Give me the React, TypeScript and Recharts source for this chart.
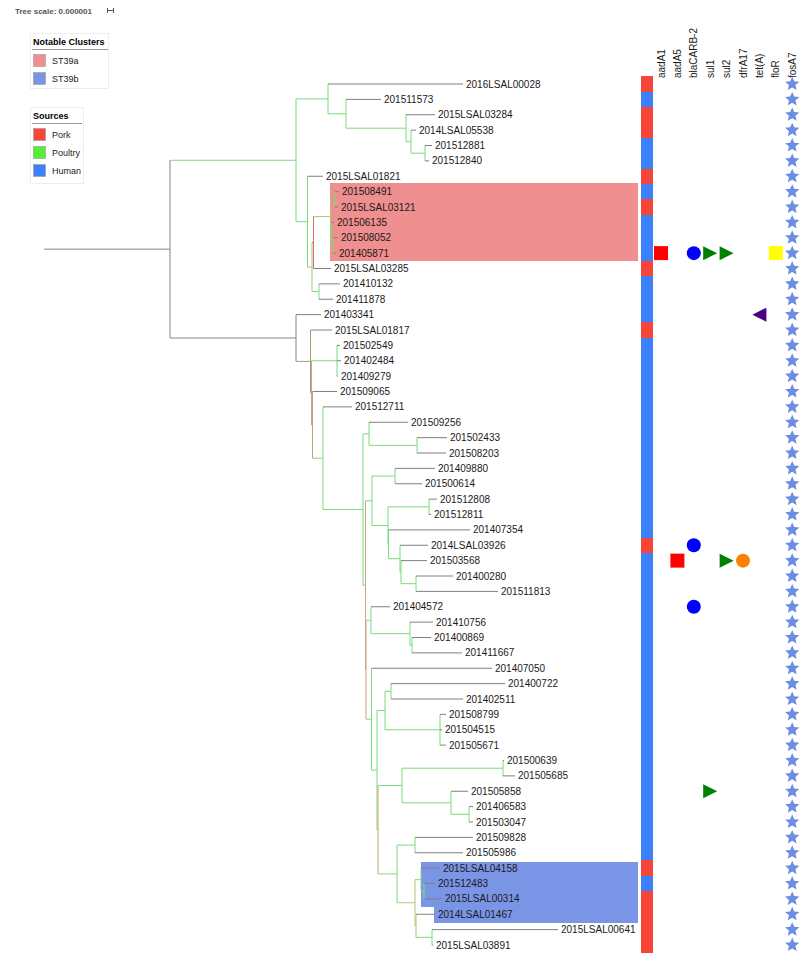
import React from 'react';
import { ComposedChart, XAxis, YAxis, ReferenceLine, ReferenceArea, Scatter } from 'recharts';

// ---------- DATA ----------
const leafNames = [
  '2016LSAL00028', '201511573', '2015LSAL03284', '2014LSAL05538', '201512881', '201512840',
  '2015LSAL01821', '201508491', '2015LSAL03121', '201506135', '201508052', '201405871',
  '2015LSAL03285', '201410132', '201411878', '201403341', '2015LSAL01817', '201502549',
  '201402484', '201409279', '201509065', '201512711', '201509256', '201502433', '201508203',
  '201409880', '201500614', '201512808', '201512811', '201407354', '2014LSAL03926',
  '201503568', '201400280', '201511813', '201404572', '201410756', '201400869', '201411667',
  '201407050', '201400722', '201402511', '201508799', '201504515', '201505671', '201500639',
  '201505685', '201505858', '201406583', '201503047', '201509828', '201505986',
  '2015LSAL04158', '201512483', '2015LSAL00314', '2014LSAL01467', '2015LSAL00641',
  '2015LSAL03891',
];

// cumulative divergence at each leaf tip
const leafTips = [
  463, 381, 435, 416, 432, 429, 323, 339, 338, 334, 338, 336, 331, 340, 333, 321, 332, 340,
  341, 338, 337, 352, 408, 447, 446, 435, 422, 437, 431, 470, 428, 427, 453, 498, 390, 433,
  431, 462, 492, 505, 463, 446, 442, 446, 504, 515, 468, 473, 473, 473, 463, 440, 435, 442,
  435, 558, 433,
];

// P = Pork, H = Human
const leafSources = [
  'P', 'H', 'P', 'P', 'H', 'H', 'P', 'H', 'P', 'H', 'H', 'H', 'P', 'H', 'H', 'H', 'P', 'H',
  'H', 'H', 'H', 'H', 'H', 'H', 'H', 'H', 'H', 'H', 'H', 'H', 'P', 'H', 'H', 'H', 'H', 'H',
  'H', 'H', 'H', 'H', 'H', 'H', 'H', 'H', 'H', 'H', 'H', 'H', 'H', 'H', 'H', 'P', 'H', 'P',
  'P', 'P', 'P',
];

const rootStemStart = 44;

// internal nodes: [id, cumulative divergence, children (leaf index or node id)]
const treeNodes: [string, number, (string | number)[]][] = [
  ['R', 170, ['A', 'B']],
  ['A', 296, ['A1', 'A2']],
  ['A1', 328, [0, 'A1b']],
  ['A1b', 346, [1, 'A1c']],
  ['A1c', 406, [2, 'A1d']],
  ['A1d', 411, [3, 'A1e']],
  ['A1e', 425, [4, 5]],
  ['A2', 307.5, [6, 'A3']],
  ['A3', 312, ['X', 'A5']],
  ['X', 313.5, ['A4', 12]],
  ['A4', 330.5, ['A4a', 'A4b']],
  ['A4a', 335, [7, 8]],
  ['A4b', 331.5, [9, 'A4c']],
  ['A4c', 333, [10, 11]],
  ['A5', 319, [13, 14]],
  ['B', 296, [15, 'B1']],
  ['B1', 310.5, [16, 'Z']],
  ['Z', 311.5, ['B2', 'W2']],
  ['B2', 337, [17, 18, 19]],
  ['W2', 312.5, [20, 'B3']],
  ['B3', 323, [21, 'B4']],
  ['B4', 363, ['B5', 'B6']],
  ['B5', 369, [22, 'B5a']],
  ['B5a', 417, [23, 24]],
  ['B6', 365.5, ['B7', 'B8']],
  ['B7', 372, ['B7a', 'B7b']],
  ['B7a', 395, [25, 26]],
  ['B7b', 388, ['B7c', 'X1']],
  ['B7c', 429, [27, 28]],
  ['X1', 388.5, [29, 'X2']],
  ['X2', 400, [30, 'X2b']],
  ['X2b', 401, [31, 'X3']],
  ['X3', 416, [32, 33]],
  ['B8', 366, ['C1', 'D']],
  ['C1', 371, [34, 'C1a']],
  ['C1a', 410, [35, 'C1b']],
  ['C1b', 412, [36, 37]],
  ['D', 371.5, [38, 'D1']],
  ['D1', 377, ['E1', 'F']],
  ['E1', 385, ['E1a', 'E1b']],
  ['E1a', 391, [39, 40]],
  ['E1b', 440, [41, 42, 43]],
  ['F', 378, ['G', 'H']],
  ['G', 402, ['G1', 'G2']],
  ['G1', 503, [44, 45]],
  ['G2', 451, [46, 'G3']],
  ['G3', 469, [47, 48]],
  ['H', 397, ['H1', 'H2']],
  ['H1', 415, [49, 50]],
  ['H2', 415, ['H3', 'H2b']],
  ['H3', 421, [51, 'H3a']],
  ['H3a', 424, [52, 53]],
  ['H2b', 416, [54, 'H5']],
  ['H5', 432, [55, 56]],
];

// highlighted clusters: [name, first leaf, last leaf]
const clusterRanges: [string, number, number][] = [
  ['ST39a', 7, 11],
  ['ST39b', 51, 53],
  ['ST39b', 54, 54],
];

const geneNames = ['aadA1', 'aadA5', 'blaCARB-2', 'sul1', 'sul2', 'dfrA17', 'tet(A)', 'floR', 'fosA7'];
const aadA1Rows = [11];
const aadA5Rows = [31];
const blaCARB2Rows = [11, 30, 34];
const sul1Rows = [11, 46];
const sul2Rows = [11, 31];
const dfrA17Rows = [31];
const tetARows = [15];
const floRRows = [11];
const fosA7Rows = [
  0, 1, 2, 3, 4, 5, 6, 7, 8, 9, 10, 11, 12, 13, 14, 15, 16, 17, 18, 19, 20, 21, 22, 23, 24,
  25, 26, 27, 28, 29, 30, 31, 32, 33, 34, 35, 36, 37, 38, 39, 40, 41, 42, 43, 44, 45, 46, 47,
  48, 49, 50, 51, 52, 53, 54, 55, 56,
];
const geneRows = [aadA1Rows, aadA5Rows, blaCARB2Rows, sul1Rows, sul2Rows, dfrA17Rows, tetARows, floRRows, fosA7Rows];

// ---------- STYLE / LAYOUT ----------
const W = 800;
const H = 958;
const ROW_PX = 15.375;
const FIRST_ROW_PX = 84;
const Y_MIN = -FIRST_ROW_PX / ROW_PX;
const Y_MAX = (H - FIRST_ROW_PX) / ROW_PX;
const FONT = '"Liberation Sans", Arial, Helvetica, sans-serif';

const GREEN = '#7adb7a';
const GRAY = '#858585';
const TIP = '#808080';
const nodeColors: Record<string, string> = {
  R: GRAY,
  B: GRAY,
  B1: '#a3a27c',
  Z: '#d79d8e',
  W2: '#b2a676',
  X: '#cf7064',
  A3: '#a8c37c',
  A4: '#a9c56c',
  B6: '#c9a98a',
  B8: '#d49c88',
  F: '#c3ab6a',
  H2: '#b4c474',
  H2b: '#b4c474',
};
const sourceColors: Record<string, string> = { P: '#f8453a', H: '#3c80fb' };
const clusterColors: Record<string, string> = { ST39a: '#ef8f8f', ST39b: '#7b95e6' };
const clusterLeft: number[] = [330, 420.5, 434];
const clusterPadTop: number[] = [0.56, 0.42, 0.55];
const clusterPadBottom: number[] = [0.5, 0.5, 0.56];
const CLUSTER_RIGHT = 638;
const STRIP_X1 = 640.5;
const STRIP_X2 = 653;
const GENE_X0 = 661;
const GENE_DX = 16.4;
const geneStyles = [
  { shape: 'square', color: '#ff0000' },
  { shape: 'square', color: '#ff0000' },
  { shape: 'circle', color: '#0000ff' },
  { shape: 'triRight', color: '#008000' },
  { shape: 'triRight', color: '#008000' },
  { shape: 'circle', color: '#ff8000' },
  { shape: 'triLeft', color: '#4b0082' },
  { shape: 'square', color: '#ffff00' },
  { shape: 'star', color: '#6d8de2' },
];

// ---------- TREE LAYOUT ----------
type Child = string | number;
const nodeById: Record<string, { x: number; children: Child[] }> = {};
treeNodes.forEach(([id, x, ch]) => {
  nodeById[id] = { x, children: ch };
});
const parentX: Record<string, number> = {};
treeNodes.forEach(([, x, ch]) => {
  ch.forEach((c) => {
    parentX[typeof c === 'number' ? 'l' + c : 'n' + c] = x;
  });
});
const yCache: Record<string, number> = {};
function yOf(c: Child): number {
  if (typeof c === 'number') return c;
  if (yCache[c] !== undefined) return yCache[c];
  const ch = nodeById[c].children;
  const v = (yOf(ch[0]) + yOf(ch[ch.length - 1])) / 2;
  yCache[c] = v;
  return v;
}

type Seg = { x1: number; y1: number; x2: number; y2: number; color: string };
const segments: Seg[] = [];
segments.push({ x1: rootStemStart, y1: yOf('R'), x2: nodeById.R.x, y2: yOf('R'), color: GRAY });
treeNodes.forEach(([id, x, ch]) => {
  const c = nodeColors[id] ?? GREEN;
  const y = yOf(id);
  if (parentX['n' + id] !== undefined) {
    segments.push({ x1: parentX['n' + id], y1: y, x2: x, y2: y, color: c });
  }
  segments.push({ x1: x, y1: yOf(ch[0]), x2: x, y2: yOf(ch[ch.length - 1]), color: c });
});
leafNames.forEach((_, i) => {
  segments.push({ x1: parentX['l' + i], y1: i, x2: leafTips[i], y2: i, color: TIP });
});

// source strip runs
const stripRuns: { s: number; e: number; src: string }[] = [];
leafSources.forEach((src, i) => {
  const last = stripRuns[stripRuns.length - 1];
  if (last && last.src === src && last.e === i - 1) last.e = i;
  else stripRuns.push({ s: i, e: i, src });
});

const labelData = leafNames.map((name, i) => ({ x: leafTips[i], y: i, name }));

function starPoints(cx: number, cy: number, R: number, r: number) {
  const pts: string[] = [];
  for (let k = 0; k < 10; k++) {
    const a = -Math.PI / 2 + (k * Math.PI) / 5;
    const rad = k % 2 === 0 ? R : r;
    pts.push(`${cx + rad * Math.cos(a)},${cy + rad * Math.sin(a)}`);
  }
  return pts.join(' ');
}

function makeShape(shape: string, color: string) {
  return (props: any) => {
    const { cx, cy } = props;
    if (cx == null || cy == null) return <g />;
    const s = 7;
    if (shape === 'square') return <rect x={cx - s} y={cy - s} width={2 * s} height={2 * s} fill={color} />;
    if (shape === 'circle') return <circle cx={cx} cy={cy} r={s} fill={color} />;
    if (shape === 'triRight')
      return <polygon points={`${cx - s},${cy - s} ${cx + s},${cy} ${cx - s},${cy + s}`} fill={color} />;
    if (shape === 'triLeft')
      return <polygon points={`${cx + s},${cy - s} ${cx - s},${cy} ${cx + s},${cy + s}`} fill={color} />;
    return <polygon points={starPoints(cx, cy, 7.5, 3.4)} fill={color} />;
  };
}

const LabelShape = (props: any) => {
  const { cx, cy, payload } = props;
  if (cx == null || cy == null) return <g />;
  return (
    <text x={cx + 3} y={cy} dy="0.35em" fontSize={10} fontFamily={FONT} fill="#1a1a1a">
      {payload.name}
    </text>
  );
};

export default function App() {
  return (
    <div style={{ position: 'absolute', left: 0, top: 0, width: W, height: H, background: '#fff' }}>
      <ComposedChart width={W} height={H} margin={{ top: 0, right: 0, bottom: 0, left: 0 }}>
        <XAxis type="number" dataKey="x" domain={[0, W]} hide allowDataOverflow />
        <YAxis type="number" dataKey="y" domain={[Y_MIN, Y_MAX]} reversed hide allowDataOverflow />
        {clusterRanges.map(([name, a, b], i) => (
          <ReferenceArea
            key={'cl' + i}
            x1={clusterLeft[i]}
            x2={CLUSTER_RIGHT}
            y1={a - clusterPadTop[i]}
            y2={b + clusterPadBottom[i]}
            fill={clusterColors[name]}
            fillOpacity={1}
            stroke="none"
            shapeRendering="crispEdges"
            ifOverflow="visible"
          />
        ))}
        {stripRuns.map((r, i) => (
          <ReferenceArea
            key={'st' + i}
            x1={STRIP_X1}
            x2={STRIP_X2}
            y1={r.s - 0.5}
            y2={r.e + 0.5}
            fill={sourceColors[r.src]}
            fillOpacity={1}
            stroke="none"
            shapeRendering="crispEdges"
            ifOverflow="visible"
          />
        ))}
        {segments.map((s, i) => (
          <ReferenceLine
            key={'sg' + i}
            segment={[
              { x: s.x1, y: s.y1 },
              { x: s.x2, y: s.y2 },
            ]}
            stroke={s.color}
            strokeWidth={1}
            ifOverflow="visible"
          />
        ))}
        <Scatter data={labelData} shape={LabelShape} isAnimationActive={false} />
        {geneRows.map((rows, gi) => (
          <Scatter
            key={'g' + gi}
            data={rows.map((r) => ({ x: GENE_X0 + gi * GENE_DX, y: r }))}
            shape={makeShape(geneStyles[gi].shape, geneStyles[gi].color)}
            isAnimationActive={false}
          />
        ))}
      </ComposedChart>
      <svg
        width={W}
        height={H}
        style={{ position: 'absolute', left: 0, top: 0, pointerEvents: 'none' }}
        fontFamily={FONT}
      >
        <text x={15} y={13.5} fontSize={8} fontWeight="bold" fill="#555">
          Tree scale: 0.000001
        </text>
        <line x1={107} y1={10.5} x2={114} y2={10.5} stroke="#555" strokeWidth={1} />
        <line x1={107.5} y1={8} x2={107.5} y2={13} stroke="#555" strokeWidth={1} />
        <line x1={113.5} y1={8} x2={113.5} y2={13} stroke="#555" strokeWidth={1} />

        <rect x={30.5} y={33.5} width={78} height={55} fill="#fff" stroke="#eee" />
        <text x={33} y={44.5} fontSize={9} fontWeight="bold" fill="#000">
          Notable Clusters
        </text>
        <line x1={32} y1={49.5} x2={108} y2={49.5} stroke="#999" />
        <rect x={33.5} y={54.5} width={12} height={12} fill={clusterColors.ST39a} stroke="#999" strokeWidth={0.6} />
        <text x={52} y={63.5} fontSize={9} fill="#222">
          ST39a
        </text>
        <rect x={33.5} y={72.5} width={12} height={12} fill={clusterColors.ST39b} stroke="#999" strokeWidth={0.6} />
        <text x={52} y={81.5} fontSize={9} fill="#222">
          ST39b
        </text>

        <rect x={30.5} y={107.5} width={53} height={76} fill="#fff" stroke="#eee" />
        <text x={33} y={118.5} fontSize={9} fontWeight="bold" fill="#000">
          Sources
        </text>
        <line x1={32} y1={123.5} x2={82} y2={123.5} stroke="#999" />
        <rect x={33.5} y={128.5} width={12} height={12} fill="#f8453a" stroke="#999" strokeWidth={0.6} />
        <text x={52} y={137.5} fontSize={9} fill="#222">
          Pork
        </text>
        <rect x={33.5} y={146.5} width={12} height={12} fill="#57ee37" stroke="#999" strokeWidth={0.6} />
        <text x={52} y={155.5} fontSize={9} fill="#222">
          Poultry
        </text>
        <rect x={33.5} y={164.5} width={12} height={12} fill="#3c80fb" stroke="#999" strokeWidth={0.6} />
        <text x={52} y={174} fontSize={9} fill="#222">
          Human
        </text>

        {geneNames.map((g, i) => {
          const gx = GENE_X0 + i * GENE_DX + 3.5;
          return (
            <text key={g} x={gx} y={78} fontSize={10} fill="#1a1a1a" transform={`rotate(-90 ${gx} 78)`}>
              {g}
            </text>
          );
        })}
      </svg>
    </div>
  );
}
